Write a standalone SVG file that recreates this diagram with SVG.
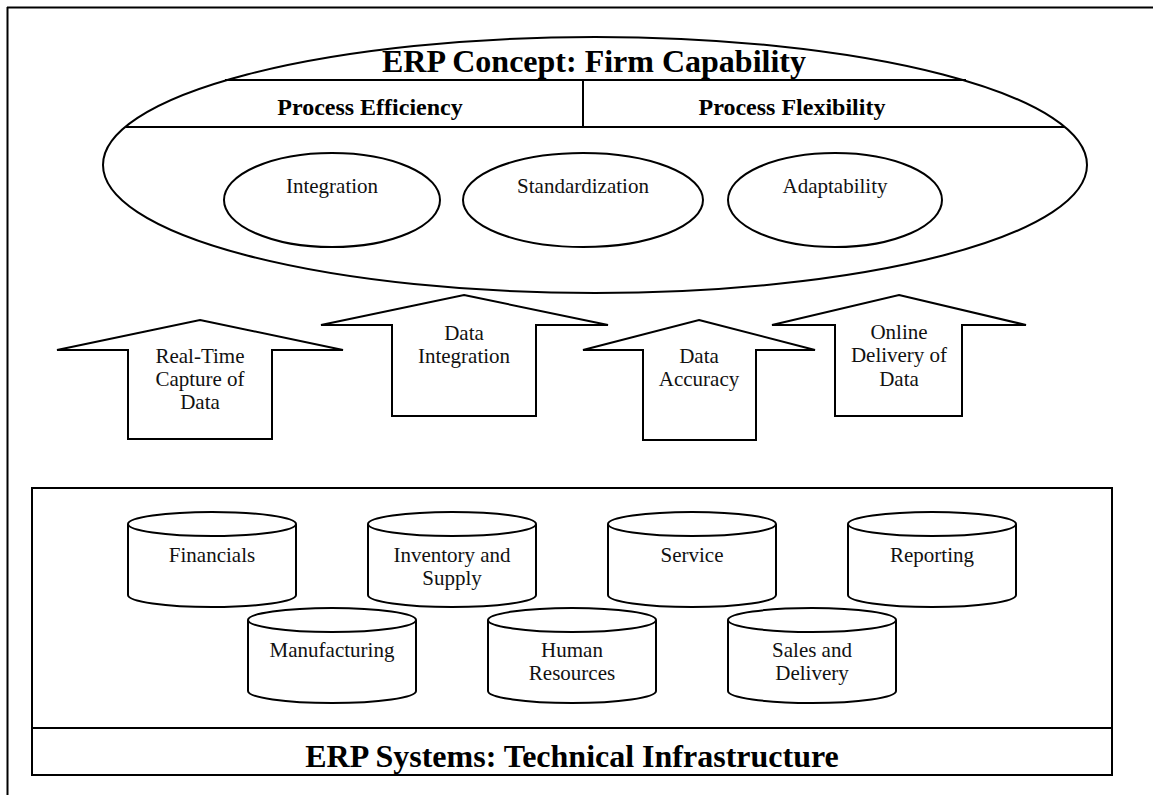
<svg xmlns="http://www.w3.org/2000/svg" width="1153" height="795" viewBox="0 0 1153 795">
  <style>
    .ln { fill: none; stroke: #000; stroke-width: 2; }
    .shape { fill: #fff; stroke: #000; stroke-width: 2; }
    .t { font-family: "Liberation Serif", "Times New Roman", serif; font-size: 21px; fill: #111; text-anchor: middle; }
    .h1 { font-family: "Liberation Serif", "Times New Roman", serif; font-size: 32px; font-weight: bold; fill: #000; text-anchor: middle; }
    .h2 { font-family: "Liberation Serif", "Times New Roman", serif; font-size: 24px; font-weight: bold; fill: #000; text-anchor: middle; }
  </style>
  <rect width="1153" height="795" fill="#fff"/>

  <!-- page frame (top and left rules) -->
  <path class="ln" d="M7 7.5 H1153 M7.5 7 V795"/>

  <!-- firm capability concept -->
  <g id="erp-concept">
    <ellipse class="shape" cx="595" cy="165" rx="492" ry="128"/>
    <path class="ln" d="M225 80 H966 M126 127 H1065 M583 80 V127"/>
    <text class="h1" x="594" y="72">ERP Concept: Firm Capability</text>
    <text class="h2" x="370" y="115">Process Efficiency</text>
    <text class="h2" x="792" y="115">Process Flexibility</text>
  </g>
  <g id="integration">
    <ellipse class="shape" cx="332" cy="200" rx="108" ry="47"/>
    <text class="t" x="332" y="193">Integration</text>
  </g>
  <g id="standardization">
    <ellipse class="shape" cx="583" cy="200" rx="120" ry="47"/>
    <text class="t" x="583" y="193">Standardization</text>
  </g>
  <g id="adaptability">
    <ellipse class="shape" cx="835" cy="200" rx="107" ry="47"/>
    <text class="t" x="835" y="193">Adaptability</text>
  </g>

  <!-- upward block arrows -->
  <g id="connectors">
    <g id="arrow-realtime">
      <path class="shape" d="M200 320 L343 350 H272 V439 H128 V350 H57 Z"/>
      <text class="t" x="200" y="363">Real-Time</text>
      <text class="t" x="200" y="386">Capture of</text>
      <text class="t" x="200" y="409">Data</text>
    </g>
    <g id="arrow-integration">
      <path class="shape" d="M464 295 L608 325 H536 V416 H392 V325 H321 Z"/>
      <text class="t" x="464" y="340">Data</text>
      <text class="t" x="464" y="363">Integration</text>
    </g>
    <g id="arrow-accuracy">
      <path class="shape" d="M699 320 L815 350 H756 V440 H643 V350 H583 Z"/>
      <text class="t" x="699" y="363">Data</text>
      <text class="t" x="699" y="386">Accuracy</text>
    </g>
    <g id="arrow-online">
      <path class="shape" d="M899 295 L1026 325 H962 V416 H835 V325 H772 Z"/>
      <text class="t" x="899" y="339">Online</text>
      <text class="t" x="899" y="362">Delivery of</text>
      <text class="t" x="899" y="386">Data</text>
    </g>
  </g>

  <!-- technical infrastructure -->
  <g id="erp-systems">
    <rect class="shape" x="32" y="488" width="1080" height="287"/>
    <path class="ln" d="M32 728 H1112"/>
    <text class="h1" x="572" y="767">ERP Systems: Technical Infrastructure</text>
  </g>

  <g id="financials">
    <path class="shape" d="M128 524 V595 A84 12 0 0 0 296 595 V524"/>
    <ellipse class="shape" cx="212" cy="524" rx="84" ry="12"/>
    <text class="t" x="212" y="562">Financials</text>
  </g>
  <g id="inventory">
    <path class="shape" d="M368 524 V595 A84 12 0 0 0 536 595 V524"/>
    <ellipse class="shape" cx="452" cy="524" rx="84" ry="12"/>
    <text class="t" x="452" y="562">Inventory and</text>
    <text class="t" x="452" y="585">Supply</text>
  </g>
  <g id="service">
    <path class="shape" d="M608 524 V595 A84 12 0 0 0 776 595 V524"/>
    <ellipse class="shape" cx="692" cy="524" rx="84" ry="12"/>
    <text class="t" x="692" y="562">Service</text>
  </g>
  <g id="reporting">
    <path class="shape" d="M848 524 V595 A84 12 0 0 0 1016 595 V524"/>
    <ellipse class="shape" cx="932" cy="524" rx="84" ry="12"/>
    <text class="t" x="932" y="562">Reporting</text>
  </g>
  <g id="manufacturing">
    <path class="shape" d="M248 620 V691 A84 12 0 0 0 416 691 V620"/>
    <ellipse class="shape" cx="332" cy="620" rx="84" ry="12"/>
    <text class="t" x="332" y="657">Manufacturing</text>
  </g>
  <g id="human-resources">
    <path class="shape" d="M488 620 V691 A84 12 0 0 0 656 691 V620"/>
    <ellipse class="shape" cx="572" cy="620" rx="84" ry="12"/>
    <text class="t" x="572" y="657">Human</text>
    <text class="t" x="572" y="680">Resources</text>
  </g>
  <g id="sales-delivery">
    <path class="shape" d="M728 620 V691 A84 12 0 0 0 896 691 V620"/>
    <ellipse class="shape" cx="812" cy="620" rx="84" ry="12"/>
    <text class="t" x="812" y="657">Sales and</text>
    <text class="t" x="812" y="680">Delivery</text>
  </g>
</svg>
